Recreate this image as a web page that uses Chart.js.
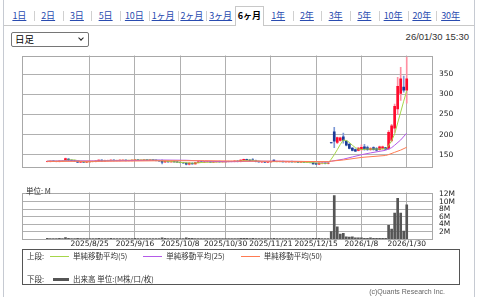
<!DOCTYPE html>
<html>
<head>
<meta charset="utf-8">
<script src="https://cdn.jsdelivr.net/npm/chart.js@4.4.1/dist/chart.umd.min.js"></script>
<style>
body { margin: 0; width: 480px; height: 297px; background: #fff; position: relative; overflow: hidden; font-family: "Liberation Sans", Arial, sans-serif; }
.frame { position: absolute; left: 3px; top: 0; width: 470px; height: 297px; border-left: 1px solid #c6cad2; border-right: 1px solid #c6cad2; }
.tabline { position: absolute; left: 4px; top: 25px; width: 470px; border-top: 1px solid #c8c8c8; }
.tabs { position: absolute; left: 5px; top: 6px; height: 20px; display: flex; }
.tabs span { box-sizing: border-box; width: 28.75px; height: 19px; text-align: center; font: 9px "Noto Sans CJK JP", sans-serif; line-height: 19px; color: #2a4cb0; text-decoration: underline; position: relative; }
.tabs span + span::before { content: ""; position: absolute; left: 0; top: 5px; height: 10px; border-left: 1px solid #d0d0d0; }
.tabs span.on { background: #fff; color: #000; font-weight: bold; text-decoration: none; border: 1px solid #c8c8c8; border-bottom: none; height: 20px; line-height: 18px; }
.tabs span.on::before, .tabs span.on + span::before { display: none; }
.sel { position: absolute; left: 11px; top: 32px; width: 73px; height: 13px; border: 1px solid #767676; border-radius: 2px; font: 9.5px "Noto Sans CJK JP", sans-serif; line-height: 13px; padding-left: 3px; box-sizing: content-box; }
.sel i { position: absolute; right: 5px; top: 3px; width: 3px; height: 3px; border-right: 1.5px solid #222; border-bottom: 1.5px solid #222; transform: rotate(45deg); }
.stamp { position: absolute; right: 11px; top: 31px; font-size: 9.5px; color: #333; }
canvas { position: absolute; }
.unit { position: absolute; left: 26px; top: 185px; font: 7.5px "Noto Sans CJK JP", sans-serif; color: #333; }
.legend { position: absolute; left: 22px; top: 249px; width: 436px; height: 34px; border: 1px solid #555; font: 7.5px "Noto Sans CJK JP", sans-serif; color: #333; }
.legend div { position: absolute; left: 4px; white-space: nowrap; }
.legend b { display: inline-block; vertical-align: middle; width: 19px; margin: 0 4px 0 6px; }
.legend em { font-style: normal; margin-right: 10px; }
.copy { position: absolute; right: 35px; top: 288px; font-size: 7px; color: #666; }
</style>
</head>
<body>
<div class="frame"></div>
<div class="tabline"></div>
<div class="tabs">
  <span>1日</span><span>2日</span><span>3日</span><span>5日</span><span>10日</span><span>1ヶ月</span><span>2ヶ月</span><span>3ヶ月</span><span class="on">6ヶ月</span><span>1年</span><span>2年</span><span>3年</span><span>5年</span><span>10年</span><span>20年</span><span>30年</span>
</div>
<div class="sel">日足<i></i></div>
<div class="stamp">26/01/30 15:30</div>

<canvas id="price" width="459" height="133" style="left:21px;top:45px;width:459px;height:133px"></canvas>
<canvas id="volume" width="459" height="68" style="left:21px;top:182px;width:459px;height:68px"></canvas>
<div class="unit">単位: M</div>

<div class="legend">
  <div style="top:0px">上段:<b style="border-top:1px solid #a6d64a"></b><em>単純移動平均(5)</em><b style="border-top:1px solid #b45ae8"></b><em>単純移動平均(25)</em><b style="border-top:1px solid #ff7b52"></b><em>単純移動平均(50)</em></div>
  <div style="top:23px">下段:<b style="border-top:3px solid #555;width:16px;margin-left:9px"></b>出来高 単位:(M株/口/枚)</div>
</div>
<div class="copy">(c)Quants Research Inc.</div>

<script>
const dates = [
  '2025/8/4','2025/8/5','2025/8/6','2025/8/7','2025/8/8','2025/8/12','2025/8/13','2025/8/14','2025/8/15','2025/8/18','2025/8/19','2025/8/20','2025/8/21','2025/8/22','2025/8/25','2025/8/26','2025/8/27','2025/8/28','2025/8/29',
  '2025/9/1','2025/9/2','2025/9/3','2025/9/4','2025/9/5','2025/9/8','2025/9/9','2025/9/10','2025/9/11','2025/9/12','2025/9/16','2025/9/17','2025/9/18','2025/9/19','2025/9/22','2025/9/24','2025/9/25','2025/9/26','2025/9/29','2025/9/30',
  '2025/10/1','2025/10/2','2025/10/3','2025/10/6','2025/10/7','2025/10/8','2025/10/9','2025/10/10','2025/10/14','2025/10/15','2025/10/16','2025/10/17','2025/10/20','2025/10/21','2025/10/22','2025/10/23','2025/10/24','2025/10/27','2025/10/28','2025/10/29','2025/10/30','2025/10/31',
  '2025/11/4','2025/11/5','2025/11/6','2025/11/7','2025/11/10','2025/11/11','2025/11/12','2025/11/13','2025/11/14','2025/11/17','2025/11/18','2025/11/19','2025/11/20','2025/11/21','2025/11/25','2025/11/26','2025/11/27','2025/11/28',
  '2025/12/1','2025/12/2','2025/12/3','2025/12/4','2025/12/5','2025/12/8','2025/12/9','2025/12/10','2025/12/11','2025/12/12','2025/12/15','2025/12/16','2025/12/17','2025/12/18','2025/12/19','2025/12/22','2025/12/23','2025/12/24','2025/12/25','2025/12/26','2025/12/29','2025/12/30',
  '2026/1/5','2026/1/6','2026/1/7','2026/1/8','2026/1/9','2026/1/13','2026/1/14','2026/1/15','2026/1/16','2026/1/19','2026/1/20','2026/1/21','2026/1/22','2026/1/23','2026/1/26','2026/1/27','2026/1/28','2026/1/29','2026/1/30'
];

const opens = [
  134,134,135,134,134,135,136,140,137,136, 135,132,133,132,133,134,134,135,137,135,
  136,136,137,136,136,137,137,136,136,137, 138,137,137,138,137,138,137,136,135,133,
  134,133,134,133,132,131,130,127,129,128, 131,133,132,133,133,132,133,134,133,133,
  134,134,134,135,134,137,139,137,138,136, 134,133,133,132,133,137,134,134,134,133,
  133,134,133,133,132,133,132,132,131,129, 127,130,130,129,180.5,207,181,186,195,184,
  176,167,163,161,163,170,168,163,168,166, 163,166,168,165,186,216,264,302,318,310
];
const highs = [
  135,135,136,135,136,136,142,141,138,137, 135,134,134,134,135,135,136,138,138,137,
  137,138,138,137,138,138,138,137,138,139, 139,138,139,139,139,139,138,137,138,135,
  135,135,135,134,133,132,131,131,131,132, 134,134,134,134,134,134,134,135,134,135,
  135,135,136,136,138,140,140,139,141,137, 135,134,134,134,134,138,135,135,135,134,
  134,135,134,134,134,134,133,133,132,130, 131,131,131,131,180.5,218,194,194,204,186,
  179,168,165,168,175,176,172,168,170,168, 172,172,169,210,226,276,342,367,345,392
];
const lows = [
  133,133,134,133,133,134,135,136,135,134, 131,131,131,131,132,133,133,134,134,134,
  135,135,135,135,135,136,135,135,135,136, 136,136,136,136,136,136,135,134,128,131,
  132,132,132,131,130,129,125,125,127,127, 130,131,131,132,131,131,132,132,132,132,
  133,133,133,133,133,136,136,135,135,133, 132,131,131,131,132,134,133,133,133,132,
  132,132,132,131,131,131,131,130,127,126, 126,128,128,128,179.5,168,178,184,179,172,
  165,160,158,160,161,162,161,161,162,160, 162,164,163,164,182,206,250,285,305,278
];
const closes = [
  134,135,134,134,135,135,141,137,136,135, 132,133,132,133,134,134,135,137,135,136,
  136,137,136,136,137,137,136,136,137,138, 137,137,138,137,138,137,136,135,132,134,
  133,134,133,132,131,130,127,130,128,131, 133,132,133,133,132,133,134,133,133,134,
  134,134,135,134,137,139,137,136,136,134, 133,133,132,133,133,134,134,134,133,133,
  134,133,133,132,133,132,132,131,128,127, 130,130,129,130,179.5,184,193,192,186,174,
  166,161,159,167,169,164,163,166,163,162, 170,170,164,206,222,270,320,338,310,338
];
// 出来高 (M)
const volumes = [
  0.15,0.1,0.1,0.1,0.15,0.1,0.4,0.2,0.1,0.1, 0.2,0.1,0.1,0.1,0.1,0.1,0.1,0.2,0.1,0.1,
  0.1,0.15,0.1,0.1,0.1,0.1,0.1,0.1,0.1,0.15, 0.1,0.1,0.1,0.1,0.1,0.1,0.1,0.1,0.3,0.15,
  0.1,0.1,0.1,0.1,0.1,0.1,0.3,0.2,0.15,0.1, 0.1,0.1,0.1,0.1,0.1,0.1,0.1,0.1,0.1,0.1,
  0.1,0.1,0.1,0.1,0.15,0.2,0.15,0.1,0.2,0.1, 0.1,0.1,0.1,0.1,0.1,0.15,0.1,0.1,0.1,0.1,
  0.1,0.1,0.1,0.1,0.1,0.1,0.1,0.1,0.2,0.2, 0.15,0.1,0.1,0.1,2.0,11.7,3.3,1.3,1.5,0.6,
  0.5,0.6,0.3,0.3,0.3,0.2,0.15,0.3,0.15,0.15, 0.2,0.15,0.15,3.7,2.7,7.0,10.9,7.0,2.1,9.2
];

// 移動平均 (at these days)
const ma5Dates = ['2025/8/4','2025/8/8','2025/8/12','2025/8/14','2025/8/18','2025/8/21','2025/8/26','2025/8/29','2025/9/3','2025/9/10','2025/9/19','2025/9/25','2025/9/30','2025/10/3','2025/10/9','2025/10/15','2025/10/21','2025/10/30','2025/11/6','2025/11/12','2025/11/18','2025/11/25','2025/12/1','2025/12/8','2025/12/12','2025/12/17','2025/12/19','2025/12/22','2025/12/23','2025/12/24','2025/12/25','2025/12/26','2025/12/29','2025/12/30','2026/1/5','2026/1/6','2026/1/7','2026/1/8','2026/1/13','2026/1/16','2026/1/21','2026/1/22','2026/1/23','2026/1/26','2026/1/27','2026/1/28','2026/1/29','2026/1/30'];
const ma5Values = [134.5,134.6,135,137.5,137.5,133,133.5,135.5,136.2,136.5,137.5,137.6,135.5,133.5,131,129.5,131.8,133.2,134.2,137.4,134,133.3,133.6,132.6,130.8,129.4,129.6,139.5,150.5,163,175.8,187,185.5,181,174,168,164.5,163.5,164.5,164.5,165,173,185,202,229,256,283,309];
const ma25Dates = ['2025/8/4','2025/8/20','2025/9/1','2025/9/16','2025/9/30','2025/10/10','2025/10/21','2025/10/31','2025/11/14','2025/11/25','2025/12/5','2025/12/12','2025/12/19','2025/12/22','2025/12/26','2026/1/5','2026/1/8','2026/1/14','2026/1/21','2026/1/23','2026/1/26','2026/1/28','2026/1/30'];
const ma25Values = [134.8,135.4,135.2,136.2,137.4,136.8,134.8,133.2,134.5,134.6,134,133.4,132.4,134.5,139.5,145,150.5,155,161.5,168,174,187,204];
const ma50Dates = ['2025/8/4','2025/9/1','2025/9/30','2025/10/21','2025/11/10','2025/12/1','2025/12/19','2025/12/22','2025/12/26','2026/1/8','2026/1/21','2026/1/22','2026/1/26','2026/1/28','2026/1/30'];
const ma50Values = [134,134.4,135.6,135.8,134.6,134.2,133.4,134.6,137.5,143.8,148.6,150.8,156.5,162,169];

const dateTicks = ['2025/8/25','2025/9/16','2025/10/8','2025/10/30','2025/11/21','2025/12/15','2026/1/8','2026/1/30'];
const priceTicks = [150, 200, 250, 300, 350];
const volumeTicks = [2, 4, 6, 8, 10, 12];

const gridColor = '#b0b0b0';
const labelFont = { family: 'DejaVu Sans', size: 7.5 };
const upBody = '#ff0a2c', upWick = '#ff8fa2';
const downBody = '#1c3a96', downWick = '#7c98d6';

const frame = {
	id: 'frame',
	beforeDatasetsDraw(chart) {
		const a = chart.chartArea;
		const ctx = chart.ctx;
		ctx.save();
		ctx.strokeStyle = '#a8a8a8';
		ctx.lineWidth = 1;
		ctx.strokeRect(Math.round(a.left) + 0.5, Math.round(a.top) + 0.5, Math.round(a.right - a.left) - 1, Math.round(a.bottom - a.top) - 1);
		ctx.restore();
	}
};

function xAxis(showLabels, height) {
	return {
		type: 'linear',
		min: -8.4,
		max: 127.7,
		offset: false,
		afterBuildTicks: s => { s.ticks = dateTicks.map(d => ({ value: dates.indexOf(d) })); },
		afterFit: s => { s.height = height; },
		grid: { color: gridColor, drawTicks: false, offset: false },
		border: { display: false },
		ticks: {
			display: showLabels,
			autoSkip: false,
			maxRotation: 0,
			padding: 1,
			color: '#222',
			font: labelFont,
			callback: v => dates[v]
		}
	};
}

const isUp = i => closes[i] >= opens[i];
const ma = (ds, vs) => ds.map((d, k) => ({ x: dates.indexOf(d), y: vs[k] }));
const lineSet = (data, color) => ({
	type: 'line', data, borderColor: color, borderWidth: 1, pointRadius: 0, tension: 0, order: 0
});

new Chart(document.getElementById('price'), {
	type: 'bar',
	data: {
		datasets: [
			{
				data: dates.map((d, i) => ({ x: i, y: [lows[i], highs[i]] })),
				backgroundColor: dates.map((d, i) => isUp(i) ? upWick : downWick),
				barThickness: 1,
				grouped: false,
				order: 2
			},
			{
				data: dates.map((d, i) => ({ x: i, y: [opens[i], closes[i]] })),
				backgroundColor: dates.map((d, i) => isUp(i) ? upBody : downBody),
				barThickness: 2,
				grouped: false,
				order: 1
			},
			lineSet(ma(ma50Dates, ma50Values), '#ff7b52'),
			lineSet(ma(ma25Dates, ma25Values), '#b45ae8'),
			lineSet(ma(ma5Dates, ma5Values), '#a6d64a')
		]
	},
	options: {
		responsive: false,
		animation: false,
		layout: { padding: { top: 1, left: 1 } },
		plugins: { legend: { display: false }, tooltip: { enabled: false } },
		scales: {
			x: xAxis(false, 1),
			y: {
				position: 'right',
				min: 118.9,
				max: 396,
				afterBuildTicks: s => { s.ticks = priceTicks.map(v => ({ value: v })); },
				afterFit: s => { s.width = 47; },
				grid: { color: gridColor, drawTicks: false },
				border: { display: false },
				ticks: { padding: 6, autoSkip: false, color: '#222', font: labelFont }
			}
		}
	},
	plugins: [frame]
});

new Chart(document.getElementById('volume'), {
	type: 'bar',
	data: {
		datasets: [{
			data: dates.map((d, i) => ({ x: i, y: volumes[i] })),
			backgroundColor: '#555',
			barThickness: 2,
			grouped: false
		}]
	},
	options: {
		responsive: false,
		animation: false,
		layout: { padding: { top: 3, left: 1 } },
		plugins: { legend: { display: false }, tooltip: { enabled: false } },
		scales: {
			x: xAxis(true, 11),
			y: {
				position: 'right',
				min: 0,
				max: 12.5,
				afterBuildTicks: s => { s.ticks = volumeTicks.map(v => ({ value: v })); },
				afterFit: s => { s.width = 47; },
				grid: { color: c => c.tick && c.tick.value === 12 ? 'rgba(0,0,0,0)' : gridColor, drawTicks: false },
				border: { display: false },
				ticks: { padding: 6, autoSkip: false, color: '#222', font: labelFont, callback: v => v + 'M' }
			}
		}
	},
	plugins: [frame]
});
</script>
</body>
</html>
